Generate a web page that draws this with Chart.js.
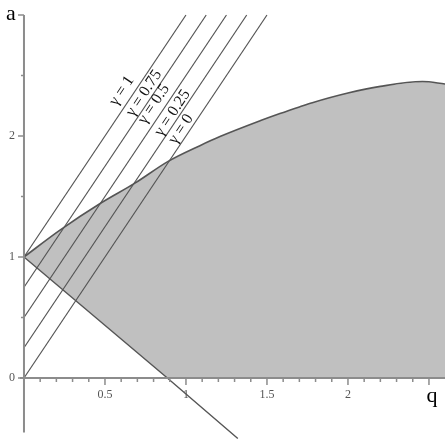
<!DOCTYPE html>
<html>
<head>
<meta charset="utf-8">
<script src="https://cdn.jsdelivr.net/npm/chart.js@4"></script>
<style>
  body { margin: 0; background: #fff; }
  canvas { display: block; }
</style>
</head>
<body>
<canvas id="myChart" width="445" height="445"></canvas>
<script>
// upper boundary of the shaded region
const qUpper = [0, 0.22, 0.48, 0.685, 0.89, 1.086, 1.21, 1.457, 1.58, 1.70, 1.78, 2.0, 2.2, 2.46, 2.6];
const aUpper = [1, 1.22, 1.45, 1.61, 1.79, 1.92, 1.995, 2.125, 2.185, 2.24, 2.275, 2.355, 2.41, 2.45, 2.43];
// lower boundary line
const qLower = [0, 0.885, 1.32];
const aLower = [1, 0, -0.5];
// gamma lines a = 2q + gamma
const gammas = [1, 0.75, 0.5, 0.25, 0];
const gammaLabels = ["γ = 1", "γ = 0.75", "γ = 0.5", "γ = 0.25", "γ = 0"];
const labelQ = [0.603, 0.741, 0.802, 0.917, 0.969];
const labelA = [2.374, 2.353, 2.264, 2.19, 2.058];
const aTop = 3;
// ticks
const xTickLabels = [0.5, 1, 1.5, 2];
const xMajorTicks = [0.5, 1, 1.5, 2, 2.5];
const yTickLabels = [0, 1, 2];
const yMajorTicks = [0, 1, 2, 3];
const yMinorTicks = [0.5, 1.5, 2.5];

const upperPts = qUpper.map((q, i) => ({ x: q, y: aUpper[i] }));
const lowerPts = qLower.map((q, i) => ({ x: q, y: aLower[i] }));
const shapePts = upperPts.concat([
  { x: qUpper[qUpper.length - 1], y: 0 },
  { x: qLower[1], y: 0 },
  { x: qLower[0], y: aLower[0] }
]);

const lineColor = "#555";
const datasets = [];
gammas.forEach((g) => {
  datasets.push({
    data: [{ x: 0, y: g }, { x: (aTop - g) / 2, y: aTop }],
    borderColor: lineColor,
    borderWidth: 1.2,
    pointRadius: 0,
    fill: false,
    order: 1
  });
});
datasets.push({
  data: upperPts,
  borderColor: lineColor,
  borderWidth: 1.6,
  pointRadius: 0,
  cubicInterpolationMode: "monotone",
  fill: false,
  order: 1
});
datasets.push({
  data: lowerPts,
  borderColor: lineColor,
  borderWidth: 1.4,
  pointRadius: 0,
  fill: false,
  order: 1
});
datasets.push({
  data: shapePts,
  borderWidth: 0,
  borderColor: "rgba(0,0,0,0)",
  backgroundColor: "#c0c0c0",
  pointRadius: 0,
  tension: 0,
  fill: "shape",
  order: 5
});

const axesPlugin = {
  id: "axes",
  afterDatasetsDraw(chart) {
    const ctx = chart.ctx;
    const xs = chart.scales.x;
    const ys = chart.scales.y;
    const x0 = xs.getPixelForValue(0);
    const y0 = ys.getPixelForValue(0);
    ctx.save();
    ctx.strokeStyle = "#8c8c8c";
    ctx.lineWidth = 2;
    ctx.beginPath();
    ctx.moveTo(x0, ys.getPixelForValue(aTop));
    ctx.lineTo(x0, ys.getPixelForValue(-0.45));
    ctx.moveTo(x0 - 4, y0);
    ctx.lineTo(chart.width, y0);
    ctx.stroke();

    ctx.lineWidth = 1.5;
    ctx.beginPath();
    yMajorTicks.forEach((v) => {
      const y = ys.getPixelForValue(v);
      ctx.moveTo(x0 - 6, y);
      ctx.lineTo(x0, y);
    });
    yMinorTicks.forEach((v) => {
      const y = ys.getPixelForValue(v);
      ctx.moveTo(x0 - 3, y);
      ctx.lineTo(x0, y);
    });
    for (let i = 1; i <= 25; i++) {
      const v = i / 10;
      const x = xs.getPixelForValue(v);
      const major = xMajorTicks.some((m) => Math.abs(m - v) < 1e-6);
      ctx.moveTo(x, y0);
      ctx.lineTo(x, y0 + (major ? 7 : 4));
    }
    ctx.stroke();

    ctx.fillStyle = "#555";
    ctx.font = "12px 'Liberation Serif'";
    ctx.textAlign = "center";
    ctx.textBaseline = "middle";
    xTickLabels.forEach((v) => {
      ctx.fillText(String(v), xs.getPixelForValue(v), y0 + 17);
    });
    ctx.textAlign = "right";
    yTickLabels.forEach((v) => {
      ctx.fillText(String(v), x0 - 9, ys.getPixelForValue(v));
    });

    ctx.fillStyle = "#000";
    ctx.font = "22px 'Liberation Serif'";
    ctx.textAlign = "center";
    ctx.textBaseline = "alphabetic";
    ctx.fillText("a", x0 - 13, ys.getPixelForValue(aTop) + 5);
    ctx.fillText("q", xs.getPixelForValue(2.5) + 3, y0 + 24);

    // gamma labels along the lines
    const ang = Math.atan2(ys.getPixelForValue(2) - ys.getPixelForValue(0),
                           xs.getPixelForValue(1) - xs.getPixelForValue(0));
    ctx.font = "16px 'Liberation Serif'";
    ctx.fillStyle = "#111";
    ctx.textBaseline = "middle";
    gammaLabels.forEach((t, i) => {
      ctx.save();
      ctx.translate(xs.getPixelForValue(labelQ[i]), ys.getPixelForValue(labelA[i]));
      ctx.rotate(ang);
      ctx.fillText(t, 0, 0);
      ctx.restore();
    });
    ctx.restore();
  }
};

new Chart(document.getElementById("myChart"), {
  type: "line",
  data: { datasets: datasets },
  options: {
    responsive: false,
    animation: false,
    devicePixelRatio: 1,
    layout: { padding: 0 },
    plugins: { legend: { display: false }, tooltip: { enabled: false } },
    scales: {
      x: { type: "linear", min: -0.148, max: 2.599, display: false },
      y: { type: "linear", min: -0.554, max: 3.124, display: false }
    }
  },
  plugins: [axesPlugin]
});
</script>
</body>
</html>
